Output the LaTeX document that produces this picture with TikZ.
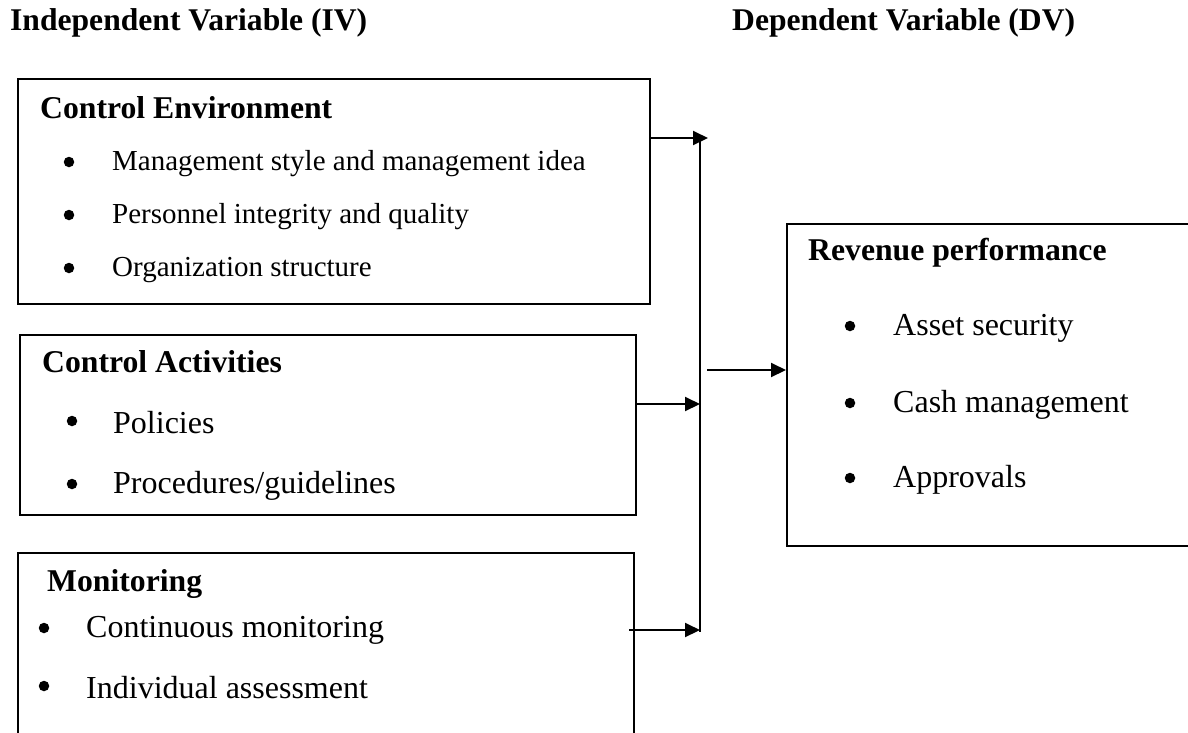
\documentclass[tikz,border=0pt]{standalone}
\usepackage{fontspec}
\setmainfont{Liberation Serif}
\usetikzlibrary{arrows.meta}
\begin{document}
\begin{tikzpicture}[x=1pt,y=-1pt,
  box/.style={draw, line width=2.2pt, rectangle, anchor=north west, inner sep=0},
  hdr/.style={anchor=west, font=\fontsize{31.6}{36}\selectfont\bfseries, inner sep=0},
  ttl/.style={anchor=west, font=\fontsize{31.7}{36}\selectfont\bfseries, inner sep=0},
  itemA/.style={anchor=west, font=\fontsize{29}{34}\selectfont, inner sep=0},
  itemB/.style={anchor=west, font=\fontsize{32}{36}\selectfont, inner sep=0},
  dot/.style={circle, fill=black, draw=none, inner sep=0, minimum size=10.5pt},
  arr/.style={line width=2pt, -{Triangle[length=15pt,width=14pt]}},
  vline/.style={line width=1.6pt},
]
\useasboundingbox (0,0) rectangle (1188,732);
\clip (0,0) rectangle (1188,732);

% headers
\node[hdr] (hiv) at (10,23) {Independent Variable (IV)};
\node[hdr] (hdv) at (732,23) {Dependent Variable (DV)};

% box 1
\node[box, minimum width=632pt, minimum height=225pt] (b1) at (17,78) {};
\node[ttl] (t1) at (40,108) {Control Environment};
\node[dot] (p11) at (69,162) {};
\node[itemA] (i11) at (112,164) {Management style and management idea};
\node[dot] (p12) at (69,215) {};
\node[itemA] (i12) at (112,217) {Personnel integrity and quality};
\node[dot] (p13) at (69,268) {};
\node[itemA] (i13) at (112,270) {Organization structure};

% box 2
\node[box, minimum width=616pt, minimum height=180pt] (b2) at (19,334) {};
\node[ttl] (t2) at (42,362) {Control Activities};
\node[dot] (p21) at (72,421) {};
\node[itemB] (i21) at (113,423) {Policies};
\node[dot] (p22) at (72,484) {};
\node[itemB] (i22) at (113,486) {Procedures/guidelines};

% box 3
\node[box, minimum width=616pt, minimum height=200pt] (b3) at (17,552) {};
\node[ttl] (t3) at (47,584) {Monitoring};
\node[dot] (p31) at (44,628) {};
\node[itemB] (i31) at (86,630) {Continuous monitoring};
\node[dot] (p32) at (44,686) {};
\node[itemB] (i32) at (86,688) {Individual assessment};

% DV box
\node[box, minimum width=420pt, minimum height=322pt] (dv) at (786,223) {};
\node[ttl] (t4) at (808,253) {Revenue performance};
\node[dot] (p41) at (850,326) {};
\node[itemB] (i41) at (893,328) {Asset security};
\node[dot] (p42) at (850,403) {};
\node[itemB] (i42) at (893,405) {Cash management};
\node[dot] (p43) at (850,478) {};
\node[itemB] (i43) at (893,480) {Approvals};

% connectors
\coordinate (vt) at (700,141);
\coordinate (vb) at (700,632);
\coordinate (j1) at (708,138);
\coordinate (j2) at (700,404);
\coordinate (j3) at (700,630);
\coordinate (s3) at (629,630);
\coordinate (s4) at (707,370);
\draw[vline] (vt) -- (vb);
\draw[arr] (b1.east |- j1) -- (j1);
\draw[arr] (b2.east |- j2) -- (j2);
\draw[arr] (s3) -- (j3);
\draw[arr] (s4) -- (dv.west |- s4);
\end{tikzpicture}
\end{document}
